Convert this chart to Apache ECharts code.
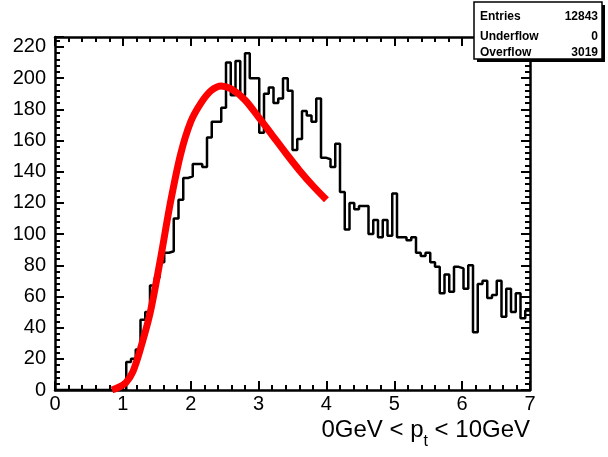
<!DOCTYPE html>
<html>
<head>
<meta charset="utf-8">
<title>pt</title>
<script src="https://cdn.jsdelivr.net/npm/echarts@6.0.0/dist/echarts.min.js"></script>
<style>
html,body{margin:0;padding:0;background:#fff;}
#pt-hist{width:608px;height:457px;}
</style>
</head>
<body>
<div id="pt-hist"></div>
<script>
// 直方图: 100 个 bin, 0 ~ 7
var binLow = 0;
var binWidth = 0.07;
var counts = [
	0,0,0,0,0,0,0,0,0,0,
	0,0,0,0,0,18,20,26,45,50,
	67,72,82,88,89,110,122,136,137,145,
	145,143,162,172,172,181,210,189,211,189,
	216,200,200,165,190,194,184,187,200,192,
	154,161,179,176,172,187,149,148,143,158,
	127,103,120,116,118,118,100,109,98,109,
	99,126,98,98,96,98,88,86,88,82,
	79,62,74,63,79,78,65,80,37,68,
	70,59,61,70,47,65,50,62,46,51
];
// 拟合曲线
var fitX = [0.84,0.95,1.05,1.15,1.25,1.40,1.55,1.70,1.85,2.00,2.15,2.30,2.45,2.60,2.80,3.00,3.20,3.40,3.60,3.80,4.00];
var fitY = [0,2,5,12,25,49,83,120,151,172,184,192,195,193,186,175,163.5,152,141,131,122];
// 统计框
var statNames = ['Entries','Underflow','Overflow'];
var statValues = ['12843','0','3019'];

var FONT = '"Liberation Sans", Arial, Helvetica, sans-serif';

function histData() {
	var d = [];
	for (var i = 0; i < counts.length; i++) {
		d.push([binLow + i * binWidth, counts[i]]);
	}
	d.push([binLow + counts.length * binWidth, counts[counts.length - 1]]);
	return d;
}
function fitData() {
	var d = [];
	for (var i = 0; i < fitX.length; i++) {
		d.push([fitX[i], fitY[i]]);
	}
	return d;
}
function xAx(pos, showLabel) {
	return {
		type: 'value', position: pos, min: 0, max: 7, interval: 1,
		axisLine: {show: true, onZero: false, lineStyle: {color: '#000', width: 2.5}},
		axisTick: {show: true, inside: true, length: 9, lineStyle: {color: '#000', width: 2}},
		minorTick: {show: true, splitNumber: 5, length: 5, lineStyle: {color: '#000', width: 2}},
		axisLabel: {show: showLabel, color: '#000', fontSize: 20, fontFamily: FONT, margin: 4},
		splitLine: {show: false}
	};
}
function yAx(pos, showLabel) {
	return {
		type: 'value', position: pos, min: 0, max: 226.4, interval: 20,
		axisLine: {show: true, onZero: false, lineStyle: {color: '#000', width: 2.5}},
		axisTick: {show: true, inside: true, length: 9, lineStyle: {color: '#000', width: 2}},
		minorTick: {show: true, splitNumber: 5, length: 5, lineStyle: {color: '#000', width: 2}},
		axisLabel: {show: showLabel, showMaxLabel: false, color: '#000', fontSize: 20, fontFamily: FONT, margin: 9},
		splitLine: {show: false}
	};
}

// 统计框 graphic
function statBox() {
	var els = [
		{type: 'rect', shape: {x: 477, y: 5, width: 128, height: 57}, style: {fill: '#000'}, z: 10},
		{type: 'rect', shape: {x: 474, y: 2, width: 128, height: 57}, style: {fill: '#fff', stroke: '#000', lineWidth: 1.5}, z: 11}
	];
	var rowY = [17, 37, 53];
	for (var i = 0; i < statNames.length; i++) {
		els.push({type: 'text', x: 480, y: rowY[i], z: 12,
			style: {text: statNames[i], fill: '#000', font: 'bold 12px ' + FONT, textVerticalAlign: 'middle', verticalAlign: 'middle'}});
		els.push({type: 'text', x: 598, y: rowY[i], z: 12,
			style: {text: statValues[i], fill: '#000', font: 'bold 12px ' + FONT, textAlign: 'right', align: 'right', textVerticalAlign: 'middle', verticalAlign: 'middle'}});
	}
	// x 轴标题
	els.push({type: 'text', right: 78, top: 418, z: 12,
		style: {
			text: '0GeV < p{sub|t} < 10GeV',
			fill: '#000',
			font: '24px ' + FONT,
			rich: {sub: {fontSize: 16, fontFamily: FONT, padding: [24, 0, 0, 0], fill: '#000'}}
		}});
	return els;
}

function drawHist() {
	var chart = echarts.init(document.getElementById('pt-hist'), null, {renderer: 'canvas'});
	option = {
		animation: false,
		backgroundColor: '#fff',
		grid: {left: 55, right: 78, top: 37, bottom: 67, containLabel: false},
		xAxis: [xAx('bottom', true), xAx('top', false)],
		yAxis: [yAx('left', true), yAx('right', false)],
		graphic: statBox(),
		series: [
			{
				type: 'line', step: 'end', data: histData(),
				xAxisIndex: 0, yAxisIndex: 0,
				showSymbol: false, symbol: 'none',
				lineStyle: {color: '#000', width: 2.5},
				z: 2
			},
			{
				type: 'line', smooth: 0.3, data: fitData(),
				xAxisIndex: 0, yAxisIndex: 0,
				showSymbol: false, symbol: 'none',
				lineStyle: {color: '#ff0000', width: 7},
				z: 3
			}
		]
	};
	chart.setOption(option);
}
drawHist();
</script>
</body>
</html>
